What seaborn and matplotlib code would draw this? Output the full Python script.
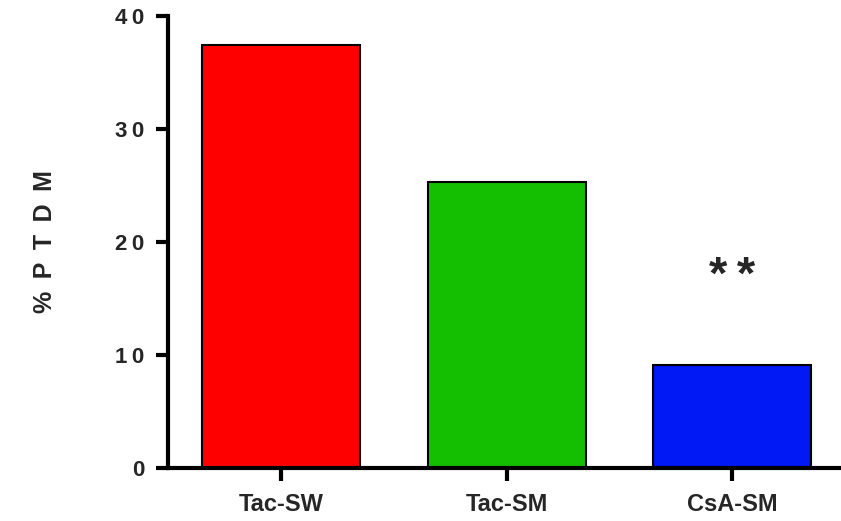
import numpy as np
import pandas as pd
import matplotlib
matplotlib.use('Agg')
import matplotlib.pyplot as plt
import seaborn as sns

# data
groups = ['Tac-SW', 'Tac-SM', 'CsA-SM']
ptdm = [37.4, 25.3, 9.1]
bar_colors = ['#ff0000', '#14be00', '#0019f5']
y_ticks = [0, 10, 20, 30, 40]
y_ticklabels = ['0', '1\u20090', '2\u20090', '3\u20090', '4\u20090']
sig_group = 'CsA-SM'
sig_label = '*\u2009*'
sig_y = 16.9

sns.set_theme(style='white')
plt.rcParams['font.family'] = ['Liberation Sans', 'DejaVu Sans']

df = pd.DataFrame({'group': groups, 'ptdm': ptdm})

fig = plt.figure(figsize=(8.41, 5.21), dpi=100)
ax = fig.add_axes([0.2, 0.1025, 0.805, 0.867])

sns.barplot(data=df, x='group', y='ptdm', hue='group', palette=bar_colors,
            width=0.7, edgecolor='black', linewidth=1.5, saturation=1,
            legend=False, ax=ax)

ax.set_xlim(-0.5, 2.5)
ax.set_ylim(0, 40)
ax.set_yticks(y_ticks)
ax.set_yticklabels(y_ticklabels, fontsize=16, fontweight='bold')
ax.set_xticks(range(len(groups)))
ax.set_xticklabels(groups, fontsize=17, fontweight='bold')
ax.set_xlabel('')
ax.set_ylabel('%\u2002P\u2002T\u2002D\u2002M', fontsize=18, fontweight='bold', labelpad=42)

for s in ['top', 'right']:
    ax.spines[s].set_visible(False)
for s in ['left', 'bottom']:
    ax.spines[s].set_linewidth(3)
    ax.spines[s].set_color('black')
ax.tick_params(axis='both', bottom=True, left=True, length=9, width=3,
               color='black', direction='out')
ax.tick_params(axis='x', pad=9)
ax.tick_params(axis='y', pad=8)

ax.text(groups.index(sig_group), sig_y, sig_label, ha='center', va='center',
        fontsize=34, fontweight='bold')

fig.savefig('out.png', dpi=100)
